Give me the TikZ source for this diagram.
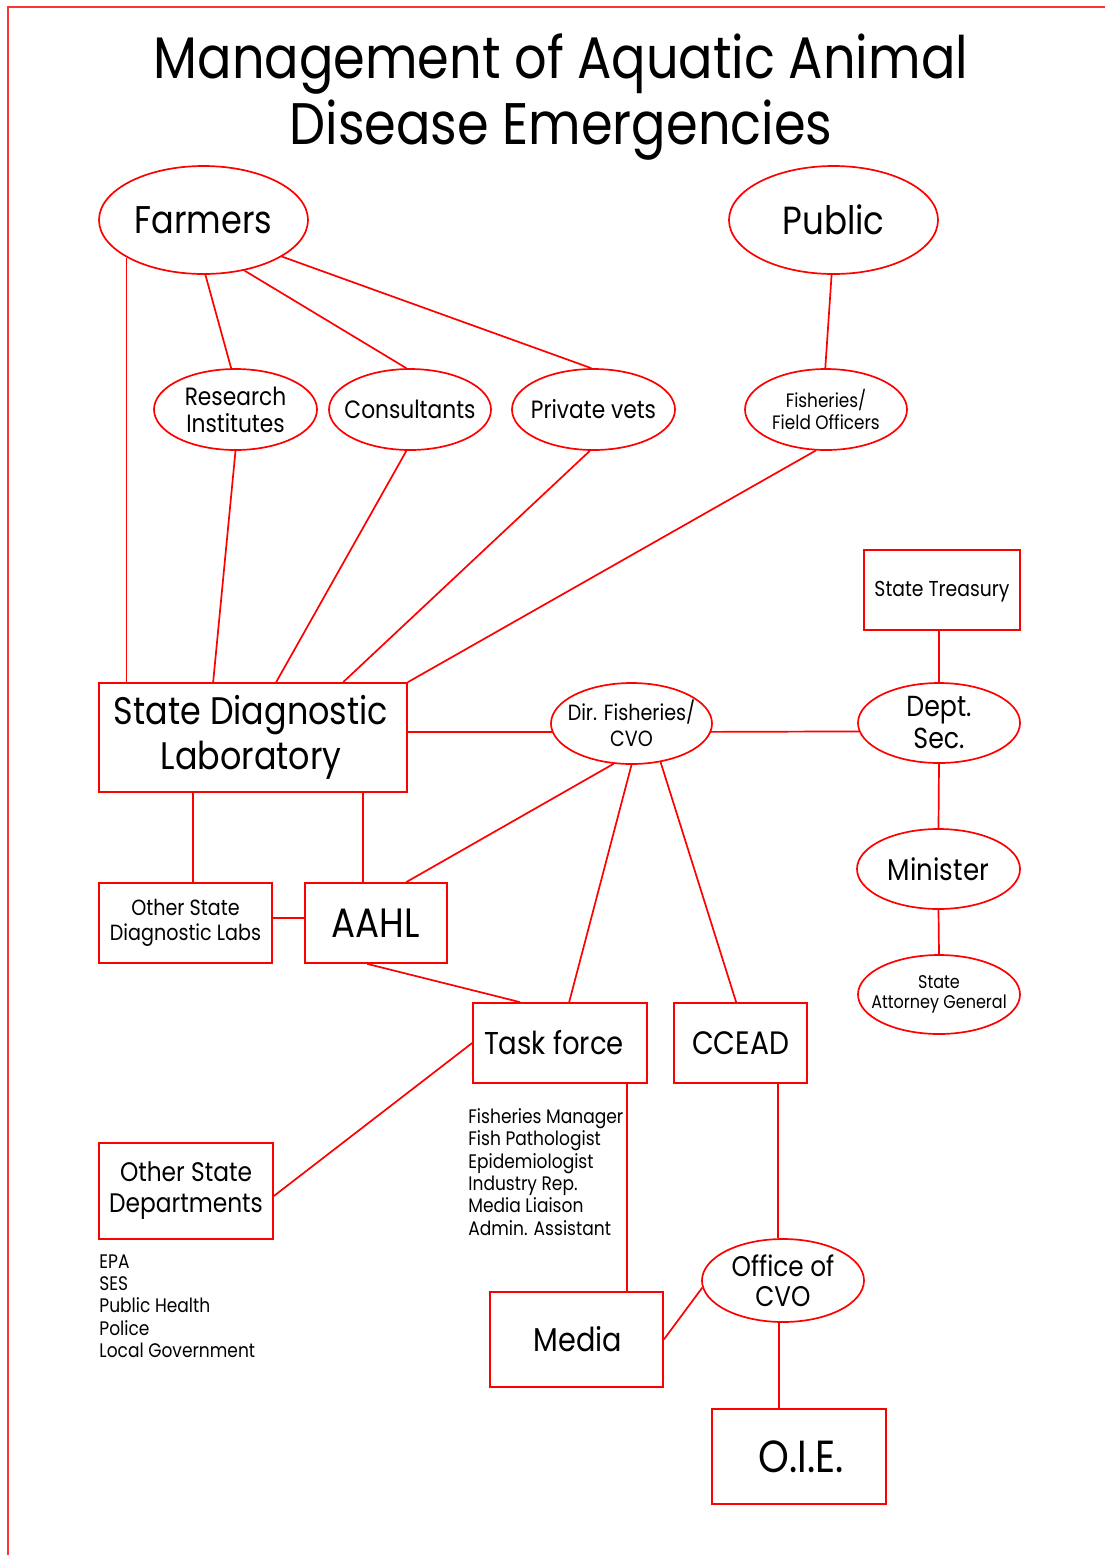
\documentclass[tikz,border=0pt]{standalone}
\usepackage{fontspec}
\setmainfont{Poppins}[FakeStretch=0.87]
\usetikzlibrary{shapes.geometric,calc}
\definecolor{nodered}{RGB}{255,0,0}
\definecolor{framered}{RGB}{255,51,51}
\tikzset{
  ell/.style={draw=nodered, line width=0.85pt, ellipse, inner sep=0pt},
  box/.style={draw=nodered, line width=0.85pt, rectangle, inner sep=0pt},
  lab/.style={align=center, inner sep=0pt},
  link/.style={draw=nodered, line width=0.85pt},
  listtext/.style={anchor=north west, align=left, inner sep=0pt, font=\fontsize{9.8}{11.2}\selectfont},
}
\begin{document}
\begin{tikzpicture}[x=0.5pt,y=-0.5pt]
\useasboundingbox (0,0) rectangle (1105,1555);
\draw[framered, line width=1pt] (1105,7) -- (8,7) -- (8,1555);

% title
\node[anchor=base, inner sep=0pt, font=\fontsize{29.3}{34}\selectfont] (title1) at (561,78) {Management of Aquatic Animal};
\node[anchor=base, inner sep=0pt, font=\fontsize{29.3}{34}\selectfont] (title2) at (561,144) {Disease Emergencies};

% ellipses
\node[ell, minimum width=104.5pt, minimum height=54pt, label={[lab,font=\fontsize{19.3}{21}\selectfont]center:Farmers}] (farmers) at (203.5,220) {};
\node[ell, minimum width=104.5pt, minimum height=54pt, label={[lab,font=\fontsize{19.6}{21}\selectfont]center:Public}] (public) at (833.5,220) {};
\node[ell, minimum width=81.5pt, minimum height=40.5pt, label={[lab,font=\fontsize{12.5}{13.5}\selectfont]center:Research\\Institutes}] (research) at (235.5,409.5) {};
\node[ell, minimum width=81pt, minimum height=40.5pt, label={[lab,font=\fontsize{12.5}{13.5}\selectfont]center:Consultants}] (consult) at (410,409.5) {};
\node[ell, minimum width=81.5pt, minimum height=40.5pt, label={[lab,font=\fontsize{12.5}{13.5}\selectfont]center:Private vets}] (pvets) at (593.5,409.5) {};
\node[ell, minimum width=81pt, minimum height=40.5pt, label={[lab,font=\fontsize{9.7}{11}\selectfont]center:Fisheries/\\Field Officers}] (fisheries) at (826,409.5) {};
\node[ell, minimum width=80.5pt, minimum height=40.5pt, label={[lab,font=\fontsize{11}{13}\selectfont]center:Dir. Fisheries/\\CVO}] (dir) at (631.5,723.5) {};
\node[ell, minimum width=81pt, minimum height=40pt, label={[lab,font=\fontsize{14.5}{16}\selectfont]center:Dept.\\Sec.}] (dept) at (939,723) {};
\node[ell, minimum width=81.5pt, minimum height=40pt, label={[lab,font=\fontsize{15}{16}\selectfont]center:Minister}] (minister) at (938.5,869) {};
\node[ell, minimum width=81pt, minimum height=39.5pt, label={[lab,font=\fontsize{9.2}{10}\selectfont]center:State\\Attorney General}] (attorney) at (939,994.5) {};
\node[ell, minimum width=81pt, minimum height=41.5pt, label={[lab,font=\fontsize{14.2}{15}\selectfont]center:Office of\\CVO}] (ocvo) at (783,1280.5) {};

% boxes
\node[box, minimum width=154pt, minimum height=54.5pt, label={[lab,xshift=-1pt,font=\fontsize{19.2}{22.5}\selectfont]center:State Diagnostic\\Laboratory}] (sdl) at (253,737.5) {};
\node[box, minimum width=78pt, minimum height=40pt, label={[lab,yshift=-1pt,font=\fontsize{10.8}{12}\selectfont]center:State Treasury}] (treasury) at (942,590) {};
\node[box, minimum width=86.5pt, minimum height=40pt, label={[lab,font=\fontsize{11}{12.5}\selectfont]center:Other State\\Diagnostic Labs}] (osdl) at (185.5,923) {};
\node[box, minimum width=71pt, minimum height=40pt, label={[lab,font=\fontsize{20.5}{22}\selectfont]center:AAHL}] (aahl) at (376,923) {};
\node[box, minimum width=87pt, minimum height=40pt, label={[lab,xshift=-3pt,font=\fontsize{15.8}{17}\selectfont]center:Task force}] (task) at (560,1043) {};
\node[box, minimum width=66.5pt, minimum height=40pt, label={[lab,font=\fontsize{16.2}{17}\selectfont]center:CCEAD}] (ccead) at (740.5,1043) {};
\node[box, minimum width=87pt, minimum height=48pt, label={[lab,font=\fontsize{13.4}{15.5}\selectfont]center:Other State\\Departments}] (osd) at (186,1191) {};
\node[box, minimum width=86.5pt, minimum height=47.5pt, label={[lab,xshift=0.75pt,font=\fontsize{16.5}{18}\selectfont]center:Media}] (media) at (576.5,1339.5) {};
\node[box, minimum width=87pt, minimum height=47.5pt, label={[lab,xshift=1pt,font=\fontsize{22.5}{24}\selectfont]center:O.I.E.}] (oie) at (799,1456.5) {};

% lists
\node[listtext] (tflist) at (468,1108) {Fisheries Manager\\Fish Pathologist\\Epidemiologist\\Industry Rep.\\Media Liaison\\Admin. Assistant};
\node[listtext] (osdlist) at (99,1254) {EPA\\SES\\Public Health\\Police\\Local Government};

% connectors
\draw[link] (farmers.206.7) -- (farmers.206.7 |- sdl.north);
\draw[link] (farmers.272.6) -- (research.96.2);
\draw[link] (farmers.-51) -- (consult.95.6);
\draw[link] (farmers.-25.5) -- (pvets.93.5);
\draw[link] (public.268.4) -- (fisheries.91.4);
\draw[link] (research.270.7) -- ($(sdl.north west)+(115,0)$);
\draw[link] (consult.265.8) -- ($(sdl.north west)+(178,0)$);
\draw[link] (pvets.265) -- ($(sdl.north west)+(245,0)$);
\draw[link] (fisheries.256.1) -- (sdl.north east);
\draw[link] (dir.186.2) -- (dir.186.2 -| sdl.east);
\draw[link] (dir.-6.2) -- (dept.186.5);
\draw[link] (dept.north |- treasury.south) -- (dept.north);
\draw[link] (dept.south) -- (minister.north);
\draw[link] (minister.south) -- (attorney.north);
\draw[link] ($(sdl.south west)+(95,0)$) coordinate (a1) -- (a1 |- osdl.north);
\draw[link] ($(sdl.south west)+(265,0)$) coordinate (a2) -- (a2 |- aahl.north);
\draw[link] ($(osdl.east)+(0,-5)$) coordinate (a3) -- (a3 -| aahl.west);
\draw[link] (dir.246) -- ($(aahl.north west)+(102,0)$);
\draw[link] (dir.270) -- ($(task.north west)+(97,0)$);
\draw[link] (dir.307) -- ($(ccead.north west)+(63,0)$);
\draw[link] ($(aahl.south west)+(63,0)$) -- ($(task.north west)+(48,0)$);
\draw[link] (task.west) -- ($(osd.east)+(0,5)$);
\draw[link] ($(task.south west)+(155,0)$) coordinate (a4) -- (a4 |- media.north);
\draw[link] ($(ccead.south west)+(105,0)$) coordinate (a5) -- (a5 |- ocvo.north);
\draw[link] (ocvo.185.4) -- (media.east);
\draw[link] ($(oie.north west)+(68,0)$) coordinate (a6) -- (a6 |- ocvo.south);
\end{tikzpicture}
\end{document}
